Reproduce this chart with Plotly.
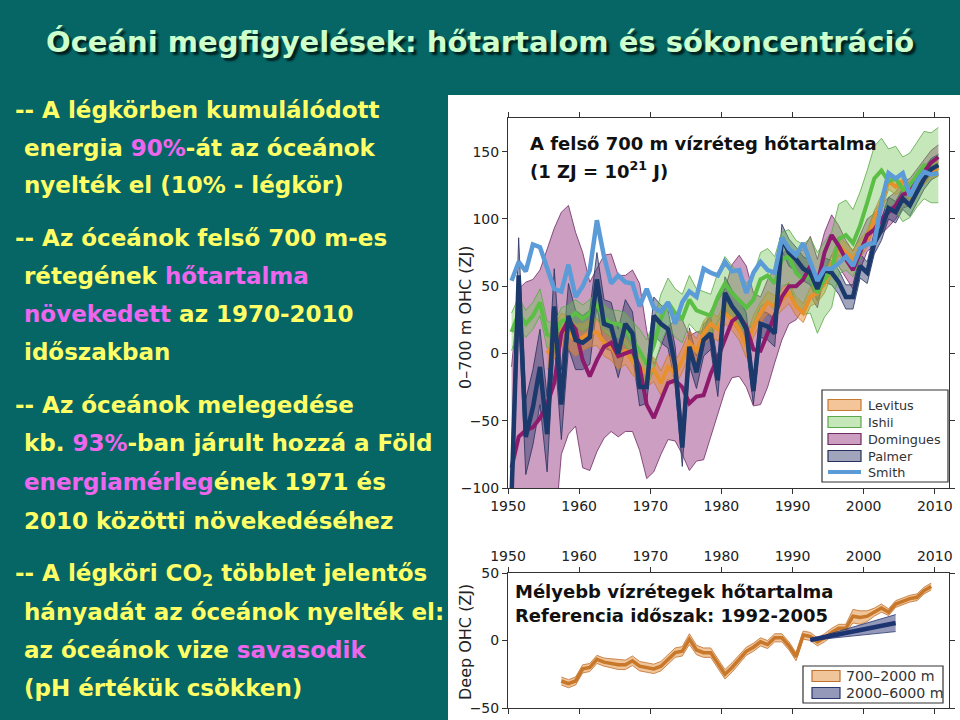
import plotly.graph_objects as go

# ---------------- data ----------------
years = list(range(1950, 2011))

smith = [54, 68, 61, 81, 79, 63, 48, 46, 66, 42,
         50, 62, 99, 72, 52, 58, 53, 52, 35, 48,
         34, 31, 38, 22, 38, 46, 42, 63, 60, 58,
         68, 61, 62, 45, 60, 68, 62, 60, 86, 78,
         73, 82, 68, 54, 63, 63, 67, 72, 65, 78,
         81, 82, 112, 134, 130, 134, 117, 128, 135, 133, 134]

levitus_years = list(range(1955, 2011))
levitus = [0, 8, 18, 15, 10,
           12, 15, 16, 8, 5, -2, 2, -6, -10, -15,
           -12, -22, -10, -15, -5, 8, 2, 15, 22, 18,
           30, 25, 18, 5, 20, 30, 38, 35, 40, 45,
           35, 30, 42, 45, 52, 65, 80, 75, 70, 78,
           85, 100, 112, 128, 124, 128, 120, 128, 132, 136, 138]
levitus_err = [12, 12, 12, 12, 12,
               10, 10, 10, 10, 10, 10, 10, 10, 10, 10,
               9, 9, 9, 9, 9, 9, 9, 9, 9, 9,
               8, 8, 8, 8, 8, 8, 8, 8, 8, 8,
               7, 7, 7, 7, 7, 7, 7, 7, 7, 7,
               6, 6, 6, 6, 6, 6, 6, 6, 6, 6, 6]

ishii = [16, 30, 22, 28, 38, 14, 12, 24, 26, 30,
         26, 30, 36, 26, 22, 22, 18, 10, 2, -8,
         6, 26, 38, 30, 26, 40, 32, 30, 28, 42,
         52, 45, 40, 34, 40, 55, 58, 52, 70, 72,
         60, 55, 58, 45, 55, 62, 85, 88, 82, 95,
         112, 130, 136, 128, 130, 122, 125, 133, 140, 138, 140]
ishii_err = [14, 12, 10, 10, 10, 10, 10, 10, 10, 10,
             10, 10, 10, 10, 10, 10, 12, 14, 16, 18,
             18, 18, 18, 18, 18, 18, 16, 16, 16, 18,
             20, 20, 20, 18, 18, 20, 20, 20, 20, 20,
             24, 26, 28, 30, 28, 28, 26, 26, 25, 25,
             24, 24, 24, 24, 24, 24, 24, 24, 25, 26, 28]

domingues = [-85, -62, -57, -55, -48, -38, -22, 15, 25, 18,
             -5, -17, -5, 5, 8, -2, 0, 2, -10, -38,
             -48, -35, -22, -20, -25, -37, -32, -31, -15, -3,
             10, 24, 28, 20, 3, 2, 15, 28, 42, 50,
             50, 55, 65, 52, 75, 88, 80, 70, 62, 75,
             88, 92, 100, 105, 110, 118, 120, 128, 135, 142, 146]
domingues_err = [75, 110, 110, 110, 110, 115, 115, 90, 85, 72,
                 80, 70, 68, 68, 66, 60, 58, 60, 62, 55,
                 40, 40, 42, 45, 50, 50, 48, 48, 47, 42,
                 38, 42, 45, 45, 42, 40, 40, 35, 32, 28,
                 25, 22, 22, 18, 15, 15, 15, 14, 14, 13,
                 12, 12, 11, 11, 10, 10, 10, 9, 9, 9, 9]

palmer = [-105, 58, -62, -40, -10, -60, 35, -38, 28, 10,
          8, 12, 55, 22, 20, 0, 22, 15, -25, -25,
          28, 22, 18, -9, -70, 5, -14, 10, 15, -20,
          45, 35, 28, 18, -28, 22, 20, 15, 86, 75,
          70, 63, 60, 48, 62, 60, 53, 42, 42, 65,
          60, 82, 92, 108, 105, 115, 110, 120, 130, 137, 140]
palmer_err = [30, 28, 28, 28, 28, 28, 28, 26, 24, 22,
              20, 20, 20, 18, 18, 18, 18, 16, 14, 12,
              14, 14, 14, 14, 14, 14, 12, 12, 12, 12,
              12, 12, 12, 12, 10, 10, 10, 10, 10, 10,
              9, 9, 9, 9, 9, 9, 9, 9, 9, 9,
              8, 8, 8, 8, 8, 8, 8, 8, 8, 8, 8]

deep_years = list(range(1957, 2010))
deep_700_2000 = [-30, -32, -30, -21, -20, -14, -16, -17, -18, -18,
                 -15, -19, -20, -21, -19, -14, -9, -8, 1, -7,
                 -9, -9, -17, -25, -20, -14, -8, -5, -1, -3,
                 2, 2, -4, -12, 4, 3, -1, 2, 6, 9,
                 9, 18, 17, 18, 21, 24, 21, 27, 29, 31,
                 32, 37, 40]
deep_700_2000_err = [3, 3, 3, 3, 3, 3, 3, 3.5, 3.5, 3.5,
                     3.5, 3.5, 3.5, 3.5, 3.5, 3.5, 3.5, 3.5, 4, 3.5,
                     3.5, 3.5, 3.5, 3.5, 3.5, 3.5, 3, 3, 3, 3,
                     3, 3, 3, 3, 3, 3, 3, 3, 3, 3,
                     3, 5, 5, 4, 3, 3, 2.5, 2.5, 2.5, 2.5,
                     2.5, 2.5, 2.5]

deep2_years = list(range(1992, 2005))
deep_2000_6000 = [0.4, 1.4, 2.5, 3.5, 4.6, 5.6, 6.6, 7.7, 8.7, 9.8, 10.8, 11.9, 12.9]
deep_2000_6000_err = [0.3, 0.8, 1.3, 1.8, 2.3, 2.8, 3.3, 3.8, 4.3, 4.8, 5.3, 5.8, 6.3]

xticks = [1950, 1960, 1970, 1980, 1990, 2000, 2010]
top_yticks = [-100, -50, 0, 50, 100, 150]
bottom_yticks = [-50, 0, 50]

legend_top = ["Levitus", "Ishii", "Domingues", "Palmer", "Smith"]
legend_bottom = ["700\u20132000 m", "2000\u20136000 m"]

# ---------------- helpers ----------------
W, H = 960, 720
def PX(x):
    return x / W
def PY(y):
    return 1 - y / H

TEAL = "#066666"
YEL = "#FFFF66"
MAG = "#EE66EE"
FONT = "DejaVu Sans"

C = {
    "Levitus": dict(line="#E8912C", fill="rgba(232,140,50,0.50)", edge="#C87A30"),
    "Ishii": dict(line="#5BBE45", fill="rgba(110,195,80,0.40)", edge="#5AA848"),
    "Domingues": dict(line="#8E1A6E", fill="rgba(140,40,120,0.45)", edge="#6E2A62"),
    "Palmer": dict(line="#1B3A6B", fill="rgba(45,55,105,0.45)", edge="#26305E"),
    "Smith": dict(line="#5B9BD8"),
}

fig = go.Figure()

def band(xs, mean, err, col, xa, ya):
    xm = [x + 0.5 for x in xs]
    lo = [mv - e for mv, e in zip(mean, err)]
    hi = [mv + e for mv, e in zip(mean, err)]
    fig.add_trace(go.Scatter(x=xm, y=lo, mode="lines", line=dict(color=col["edge"], width=0.8),
                             showlegend=False, hoverinfo="skip", xaxis=xa, yaxis=ya))
    fig.add_trace(go.Scatter(x=xm, y=hi, mode="lines", line=dict(color=col["edge"], width=0.8),
                             fill="tonexty", fillcolor=col["fill"], showlegend=False,
                             hoverinfo="skip", xaxis=xa, yaxis=ya))

def line(xs, vals, color, width, xa, ya):
    fig.add_trace(go.Scatter(x=[x + 0.5 for x in xs], y=vals, mode="lines",
                             line=dict(color=color, width=width), showlegend=False,
                             xaxis=xa, yaxis=ya))

# top chart bands
band(years, domingues, domingues_err, C["Domingues"], "x", "y")
band(years, palmer, palmer_err, C["Palmer"], "x", "y")
band(levitus_years, levitus, levitus_err, C["Levitus"], "x", "y")
band(years, ishii, ishii_err, C["Ishii"], "x", "y")
# top chart lines
line(levitus_years, levitus, C["Levitus"]["line"], 4, "x", "y")
line(years, ishii, C["Ishii"]["line"], 4, "x", "y")
line(years, domingues, C["Domingues"]["line"], 4, "x", "y")
line(years, palmer, C["Palmer"]["line"], 4.5, "x", "y")
line(years, smith, C["Smith"]["line"], 4.5, "x", "y")

# bottom chart
ORG = dict(line="#C8782A", fill="rgba(225,150,70,0.55)", edge="#C07030")
NAV = dict(line="#1C3470", fill="rgba(60,70,130,0.55)", edge="#2A3870")
band(deep_years, deep_700_2000, deep_700_2000_err, ORG, "x2", "y2")
line(deep_years, deep_700_2000, ORG["line"], 3.5, "x2", "y2")
band(deep2_years, deep_2000_6000, deep_2000_6000_err, NAV, "x2", "y2")
line(deep2_years, deep_2000_6000, NAV["line"], 4.5, "x2", "y2")

axis_common = dict(showgrid=False, zeroline=False, showline=True, linecolor="#333",
                   linewidth=1, mirror="ticks", ticks="outside", ticklen=5,
                   tickcolor="#333", automargin=False,
                   tickfont=dict(family=FONT, size=14, color="#222"))

fig.update_layout(
    width=W, height=H, margin=dict(l=0, r=0, t=0, b=0, pad=0, autoexpand=False),
    paper_bgcolor=TEAL, plot_bgcolor="white", showlegend=False,
    xaxis=dict(domain=[PX(508), PX(949)], range=[1950, 2012], tickvals=xticks,
               anchor="y", **axis_common),
    yaxis=dict(domain=[PY(488), PY(118)], range=[-100, 175], tickvals=top_yticks,
               anchor="x", **axis_common),
    xaxis2=dict(domain=[PX(508), PX(949)], range=[1950, 2012], tickvals=xticks,
                side="top", anchor="y2", **axis_common),
    yaxis2=dict(domain=[PY(708), PY(573)], range=[-50, 50], tickvals=bottom_yticks,
                anchor="x2", **axis_common),
)

shapes = []
# white chart panel
shapes.append(dict(type="rect", xref="paper", yref="paper", x0=PX(448), x1=PX(960),
                   y0=PY(720), y1=PY(95), fillcolor="white", line=dict(width=0), layer="below"))

annotations = []
def txt(x, y, text, size, color, bold=False, anchor="left", angle=0, shadow=None):
    f = dict(family=FONT, size=size, color=color, weight=700 if bold else 400)
    if shadow:
        f["shadow"] = shadow
    annotations.append(dict(xref="paper", yref="paper", x=PX(x), y=PY(y), text=text,
                            showarrow=False, xanchor=anchor, yanchor="middle",
                            font=f, textangle=angle))

# title
txt(480, 42, "Óceáni megfigyelések: hőtartalom és sókoncentráció", 29, "#CCFFCC",
    bold=True, anchor="center", shadow="3px 3px 2px #002020")

def m(s):
    return f"<span style='color:{MAG}'>{s}</span>"

left_lines = [
    (13, 110, "-- A légkörben kumulálódott"),
    (22, 148, "energia " + m("90%") + "-át az óceánok"),
    (22, 185, "nyelték el (10% - légkör)"),
    (13, 238, "-- Az óceánok felső 700 m-es"),
    (22, 276, "rétegének " + m("hőtartalma")),
    (22, 314, m("növekedett") + " az 1970-2010"),
    (22, 352, "időszakban"),
    (13, 405, "-- Az óceánok melegedése"),
    (22, 443, "kb. " + m("93%") + "-ban járult hozzá a Föld"),
    (22, 482, m("energiamérleg") + "ének 1971 és"),
    (22, 521, "2010 közötti növekedéséhez"),
    (13, 575, "-- A légköri CO<sub>2</sub> többlet jelentős"),
    (22, 612, "hányadát az óceánok nyelték el:"),
    (22, 650, "az óceánok vize " + m("savasodik")),
    (22, 688, "(pH értékük csökken)"),
]
for x, y, t in left_lines:
    txt(x, y, t, 23, YEL, bold=True)

# chart texts
txt(528, 144, "A felső 700 m vízréteg hőtartalma", 18, "#111", bold=True)
txt(528, 170, "(1 ZJ = 10<sup>21</sup> J)", 18, "#111", bold=True)
txt(513, 591, "Mélyebb vízrétegek hőtartalma", 18, "#111", bold=True)
txt(513, 615, "Referencia időszak: 1992-2005", 18, "#111", bold=True)
txt(465, 317, "0\u2013700 m OHC (ZJ)", 16, "#222", anchor="center", angle=-90)
txt(465, 642, "Deep OHC (ZJ)", 16, "#222", anchor="center", angle=-90)

# top legend
shapes.append(dict(type="rect", xref="paper", yref="paper", x0=PX(822), x1=PX(948),
                   y0=PY(482), y1=PY(390), fillcolor="white", line=dict(color="#333", width=1.2)))
rows = [405, 422, 439, 456, 472]
for name, yc in zip(legend_top, rows):
    col = C[name]
    if name == "Smith":
        shapes.append(dict(type="line", xref="paper", yref="paper", x0=PX(828), x1=PX(861),
                           y0=PY(yc), y1=PY(yc), line=dict(color=col["line"], width=4)))
    else:
        shapes.append(dict(type="rect", xref="paper", yref="paper", x0=PX(828), x1=PX(861),
                           y0=PY(yc + 5.5), y1=PY(yc - 5.5), fillcolor=col["fill"],
                           line=dict(color=col["edge"], width=1.2)))
    txt(866, yc, name, 12.8, "#333")

# bottom legend
shapes.append(dict(type="rect", xref="paper", yref="paper", x0=PX(803), x1=PX(943),
                   y0=PY(703), y1=PY(666), fillcolor="white", line=dict(color="#333", width=1.2)))
for name, yc, col in zip(legend_bottom, [676, 693], [ORG, NAV]):
    shapes.append(dict(type="rect", xref="paper", yref="paper", x0=PX(812), x1=PX(840),
                       y0=PY(yc + 5.5), y1=PY(yc - 5.5), fillcolor=col["fill"],
                       line=dict(color=col["edge"], width=1.2)))
    txt(844, yc, name, 14.2, "#333")

fig.update_layout(shapes=shapes, annotations=annotations)
fig.write_html("out.html", config={"displayModeBar": False},
               post_script="document.body.style.margin='0';document.body.style.overflow='hidden';")
